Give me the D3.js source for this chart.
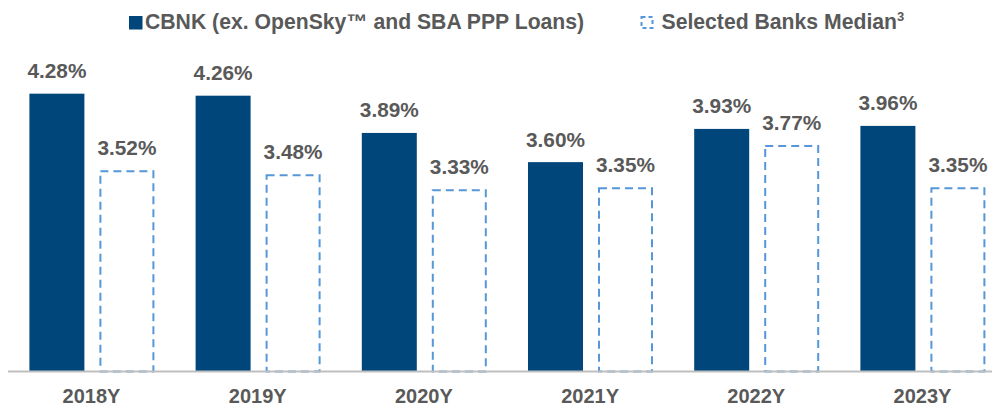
<!DOCTYPE html>
<meta charset="utf-8">
<title>Yield chart</title>
<style>
body { margin: 0; background: #fff; }
svg { display: block; font-family: "Liberation Sans", Arial, sans-serif; font-weight: bold; }
</style>
<body></body>
<script src="https://d3js.org/d3.v7.min.js"></script>
<script>
var years = ['2018Y', '2019Y', '2020Y', '2021Y', '2022Y', '2023Y'];
var cbnk = [4.28, 4.26, 3.89, 3.60, 3.93, 3.96];
var median = [3.52, 3.48, 3.33, 3.35, 3.77, 3.35];
var seriesNames = ['CBNK (ex. OpenSky\u2122 and SBA PPP Loans)', 'Selected Banks Median'];

var width = 992, height = 406,
    baseY = 371.5,
    darkColor = '#00467a',
    dashColor = '#5597d8',
    textColor = '#595959';

var x = d3.scaleBand()
    .domain(years)
    .range([8.4, 8.4 + 166.2 * 6]);

var inner = d3.scaleBand()
    .domain(['cbnk', 'median'])
    .range([21, 146])
    .paddingInner(15 / 70);

var y = d3.scaleLinear()
    .domain([1.52, 4.8])
    .range([baseY, baseY - 3.28 * 100.66]);

var svg = d3.select('body').append('svg')
    .attr('width', width)
    .attr('height', height);

var rows = years.map(function (d, i) {
  return { year: d, cbnk: cbnk[i], median: median[i] };
});

var groups = svg.selectAll('g.year')
  .data(rows)
  .enter().append('g')
    .attr('class', 'year')
    .attr('transform', function (d) { return 'translate(' + x(d.year) + ',0)'; });

groups.append('rect')
    .attr('x', inner('cbnk'))
    .attr('y', function (d) { return y(d.cbnk); })
    .attr('width', inner.bandwidth())
    .attr('height', function (d) { return baseY - y(d.cbnk); })
    .style('fill', darkColor);

groups.append('rect')
    .attr('x', inner('median') + 1)
    .attr('y', function (d) { return y(d.median) + 1; })
    .attr('width', inner.bandwidth() - 2)
    .attr('height', function (d) { return baseY - y(d.median) - 1; })
    .style('fill', 'none')
    .style('stroke', dashColor)
    .style('stroke-width', 2)
    .style('stroke-dasharray', '8,5');

// axis line
svg.append('line')
    .attr('x1', 8).attr('x2', width)
    .attr('y1', baseY).attr('y2', baseY)
    .style('stroke', '#bfbfbf')
    .style('stroke-width', 2);

groups.append('text')
    .attr('x', inner('cbnk') + inner.bandwidth() / 2)
    .attr('y', function (d) { return y(d.cbnk) - 15.5; })
    .attr('text-anchor', 'middle')
    .style('font-size', '20.8px')
    .style('fill', textColor)
    .text(function (d) { return d.cbnk.toFixed(2) + '%'; });

groups.append('text')
    .attr('x', inner('median') + inner.bandwidth() / 2)
    .attr('y', function (d) { return y(d.median) - 15.5; })
    .attr('text-anchor', 'middle')
    .style('font-size', '20.8px')
    .style('fill', textColor)
    .text(function (d) { return d.median.toFixed(2) + '%'; });

groups.append('text')
    .attr('x', x.bandwidth() / 2)
    .attr('y', 403)
    .attr('text-anchor', 'middle')
    .style('font-size', '20px')
    .style('fill', textColor)
    .text(function (d) { return d.year; });

// legend
var legend = svg.append('g');
legend.append('rect')
    .attr('x', 129).attr('y', 16)
    .attr('width', 13.5).attr('height', 13.5)
    .style('fill', darkColor);
legend.append('text')
    .attr('x', 145).attr('y', 29)
    .style('font-size', '21.2px')
    .style('fill', textColor)
    .text(seriesNames[0]);

legend.append('rect')
    .attr('x', 641.5).attr('y', 17)
    .attr('width', 11).attr('height', 11)
    .style('fill', 'none')
    .style('stroke', dashColor)
    .style('stroke-width', 2)
    .style('stroke-dasharray', '4,3');
var t2 = legend.append('text')
    .attr('x', 661.5).attr('y', 29)
    .style('font-size', '21.2px')
    .style('fill', textColor)
    .text(seriesNames[1]);
t2.append('tspan')
    .attr('dy', -8)
    .style('font-size', '13px')
    .text('3');
</script>
